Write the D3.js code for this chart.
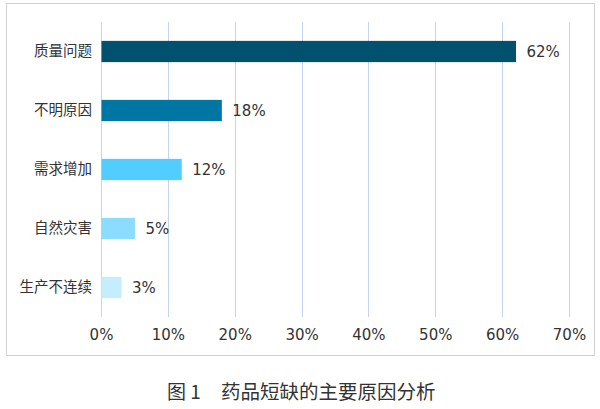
<!DOCTYPE html>
<html>
<head>
<meta charset="utf-8">
<script src="https://cdn.jsdelivr.net/npm/d3@7"></script>
<style>
  body { margin: 0; background: #fff; }
  text { font-family: "Noto Sans CJK SC", "Noto Sans", sans-serif; fill: #333; }
  .num { font-family: "DejaVu Sans", sans-serif; }
</style>
</head>
<body>
<div id="chart"></div>
<script>
const categories = ['质量问题', '不明原因', '需求增加', '自然灾害', '生产不连续'];
const values = [62, 18, 12, 5, 3];
const colors = ['#00506e', '#0077a2', '#52cdff', '#8cdcff', '#c6edfd'];
const ticks = [0, 10, 20, 30, 40, 50, 60, 70];
const figLabel = '图 1';
const title = '药品短缺的主要原因分析';

const w = 600, h = 409;
const padLeft = 101, padRight = 569, padTop = 22, padBottom = 317;

const svg = d3.select('#chart').append('svg')
  .attr('width', w).attr('height', h);

// frame
svg.append('rect')
  .attr('x', 6.5).attr('y', 3.5)
  .attr('width', 588).attr('height', 352)
  .attr('fill', '#fff')
  .attr('stroke', '#d0d0d0');

const x = d3.scaleLinear().domain([0, 70]).range([padLeft, padRight]);
const y = d3.scaleBand().domain(categories).range([padTop, padBottom]).paddingInner(0.64).paddingOuter(0.32);

// gridlines
svg.append('g').selectAll('line')
  .data(ticks)
  .enter().append('line')
  .attr('x1', d => Math.round(x(d)) + 0.5)
  .attr('x2', d => Math.round(x(d)) + 0.5)
  .attr('y1', padTop).attr('y2', padBottom)
  .attr('stroke', '#c5d3f5');

// bars
svg.selectAll('.bar')
  .data(values)
  .enter().append('rect')
  .attr('class', 'bar')
  .attr('x', x(0) + 0.5)
  .attr('y', (d, i) => y(categories[i]))
  .attr('width', d => x(d) - x(0))
  .attr('height', y.bandwidth())
  .attr('fill', (d, i) => colors[i]);

// value labels
svg.selectAll('.val')
  .data(values)
  .enter().append('text')
  .attr('class', 'val num')
  .attr('x', d => x(d) + 11)
  .attr('y', (d, i) => y(categories[i]) + y.bandwidth() / 2)
  .attr('dy', '0.36em')
  .attr('font-size', 15)
  .text(d => d + '%');

// y axis
const yAxis = d3.axisLeft(y).tickSize(0).tickPadding(9);
svg.append('g')
  .attr('transform', `translate(${padLeft}, 0)`)
  .call(yAxis)
  .call(g => g.select('.domain').remove())
  .selectAll('text')
  .attr('font-size', 14.5)
  .attr('fill', '#333');

// x axis
const xAxis = d3.axisBottom(x).tickValues(ticks).tickSize(0).tickPadding(12).tickFormat(d => d + '%');
svg.append('g')
  .attr('transform', `translate(0, ${padBottom})`)
  .call(xAxis)
  .call(g => g.select('.domain').remove())
  .selectAll('text')
  .attr('class', 'num')
  .attr('font-size', 15)
  .attr('fill', '#333');

// caption
svg.append('text')
  .attr('x', 167).attr('y', 392)
  .attr('dy', '0.36em')
  .attr('font-size', 19)
  .style('white-space', 'pre')
  .text(figLabel);

svg.append('text')
  .attr('x', 221).attr('y', 392)
  .attr('dy', '0.36em')
  .attr('font-size', 19.5)
  .text(title);
</script>
</body>
</html>
